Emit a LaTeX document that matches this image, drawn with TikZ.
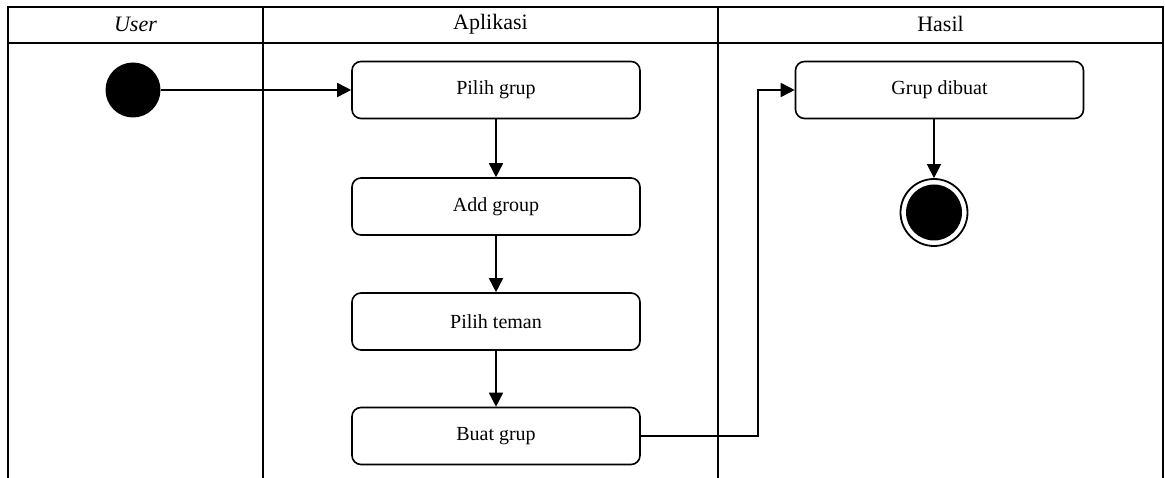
\documentclass[tikz,border=0pt]{standalone}
\usepackage{fontspec}
\setmainfont{Liberation Serif}
\usetikzlibrary{arrows.meta,positioning}
\begin{document}
\begin{tikzpicture}[x=1pt,y=-1pt,
  lane/.style={line width=2.3pt},
  act/.style={draw,line width=1.6pt,rounded corners=9pt,minimum width=288pt,minimum height=57pt,inner sep=0pt,font=\fontsize{20}{24}\selectfont},
  hdr/.style={font=\fontsize{22}{26}\selectfont,inner sep=0pt},
  flow/.style={line width=1.6pt,-{Triangle[length=14pt,width=14pt]}},
  startdot/.style={circle,fill=black,minimum size=55pt,inner sep=0pt},
  enddot/.style={circle,draw,line width=1.8pt,minimum size=67pt,inner sep=0pt,path picture={\fill[black] (path picture bounding box.center) circle (28pt);}}]
\useasboundingbox (0,0) rectangle (1165,478);
% swimlane frame
\draw[lane] (8,478) -- (8,7) -- (1163,7) -- (1163,478);
\draw[lane] (8,43) -- (1163,43);
\draw[lane] (263,7) -- (263,478);
\draw[lane] (718,7) -- (718,478);
\node[hdr] (hu) at (135.5,24) {\itshape User};
\node[hdr] (ha) at (490.5,24) {Aplikasi};
\node[hdr] (hh) at (940.5,24) {Hasil};
% activities
\node[startdot] (start) at (133,90) {};
\node[act] (pg) at (496,90) {Pilih grup};
\node[act] (ag) at (496,206.5) {Add group};
\node[act] (pt) at (496,321.5) {Pilih teman};
\node[act] (bg) at (496,436) {Buat grup};
\node[act] (gd) at (939.5,90) {Grup dibuat};
\node[enddot] (end) at (934,212.5) {};
\coordinate (turn) at (758,436);
% flows
\draw[flow] (start) -- (pg);
\draw[flow] (pg) -- (ag);
\draw[flow] (ag) -- (pt);
\draw[flow] (pt) -- (bg);
\draw[flow] (bg.east) -- (turn) |- (gd.west);
\draw[flow] (gd.south -| end.north) -- (end.north);
\end{tikzpicture}
\end{document}
